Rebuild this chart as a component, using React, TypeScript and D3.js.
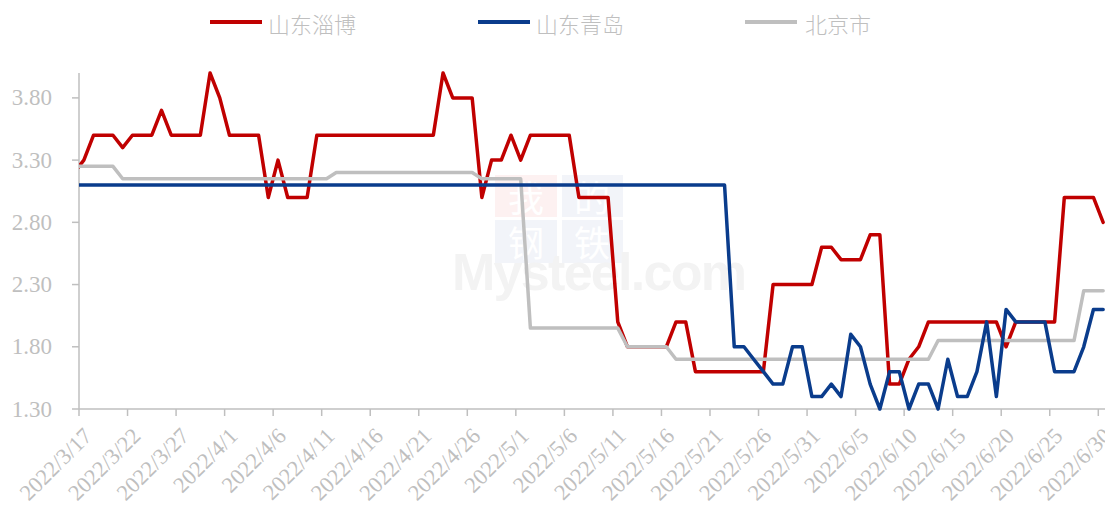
import React from 'react';
import * as d3 from 'd3';

// Daily categories: 2022/3/16 (partly hidden behind the y axis) through 2022/6/30
const startDate = new Date(2022, 2, 16);
const dayCount = 107;
const dates: Date[] = d3.range(dayCount).map((i) => d3.timeDay.offset(startDate, i));
const fmtDate = (d: Date) => `${d.getFullYear()}/${d.getMonth() + 1}/${d.getDate()}`;

const seriesNames = ['山东淄博', '山东青岛', '北京市'];
const seriesColors = ['#C00000', '#0A3C8C', '#BFBFBF'];

const ziboValues = [
  3.2,
  3.3, 3.5, 3.5, 3.5, 3.4, 3.5, 3.5, 3.5, 3.7, 3.5,
  3.5, 3.5, 3.5, 4.0, 3.8, 3.5, 3.5, 3.5, 3.5, 3.0,
  3.3, 3.0, 3.0, 3.0, 3.5, 3.5, 3.5, 3.5, 3.5, 3.5,
  3.5, 3.5, 3.5, 3.5, 3.5, 3.5, 3.5, 4.0, 3.8, 3.8,
  3.8, 3.0, 3.3, 3.3, 3.5, 3.3, 3.5, 3.5, 3.5, 3.5,
  3.5, 3.0, 3.0, 3.0, 3.0, 2.0, 1.8, 1.8, 1.8, 1.8,
  1.8, 2.0, 2.0, 1.6, 1.6, 1.6, 1.6, 1.6, 1.6, 1.6,
  1.6, 2.3, 2.3, 2.3, 2.3, 2.3, 2.6, 2.6, 2.5, 2.5,
  2.5, 2.7, 2.7, 1.5, 1.5, 1.7, 1.8, 2.0, 2.0, 2.0,
  2.0, 2.0, 2.0, 2.0, 2.0, 1.8, 2.0, 2.0, 2.0, 2.0,
  2.0, 3.0, 3.0, 3.0, 3.0, 2.8,
];

const qingdaoValues = [
  3.1,
  3.1, 3.1, 3.1, 3.1, 3.1, 3.1, 3.1, 3.1, 3.1, 3.1,
  3.1, 3.1, 3.1, 3.1, 3.1, 3.1, 3.1, 3.1, 3.1, 3.1,
  3.1, 3.1, 3.1, 3.1, 3.1, 3.1, 3.1, 3.1, 3.1, 3.1,
  3.1, 3.1, 3.1, 3.1, 3.1, 3.1, 3.1, 3.1, 3.1, 3.1,
  3.1, 3.1, 3.1, 3.1, 3.1, 3.1, 3.1, 3.1, 3.1, 3.1,
  3.1, 3.1, 3.1, 3.1, 3.1, 3.1, 3.1, 3.1, 3.1, 3.1,
  3.1, 3.1, 3.1, 3.1, 3.1, 3.1, 3.1, 1.8, 1.8, 1.7,
  1.6, 1.5, 1.5, 1.8, 1.8, 1.4, 1.4, 1.5, 1.4, 1.9,
  1.8, 1.5, 1.3, 1.6, 1.6, 1.3, 1.5, 1.5, 1.3, 1.7,
  1.4, 1.4, 1.6, 2.0, 1.4, 2.1, 2.0, 2.0, 2.0, 2.0,
  1.6, 1.6, 1.6, 1.8, 2.1, 2.1,
];

const beijingValues = [
  3.25,
  3.25, 3.25, 3.25, 3.25, 3.15, 3.15, 3.15, 3.15, 3.15, 3.15,
  3.15, 3.15, 3.15, 3.15, 3.15, 3.15, 3.15, 3.15, 3.15, 3.15,
  3.15, 3.15, 3.15, 3.15, 3.15, 3.15, 3.2, 3.2, 3.2, 3.2,
  3.2, 3.2, 3.2, 3.2, 3.2, 3.2, 3.2, 3.2, 3.2, 3.2,
  3.2, 3.15, 3.15, 3.15, 3.15, 3.15, 1.95, 1.95, 1.95, 1.95,
  1.95, 1.95, 1.95, 1.95, 1.95, 1.95, 1.8, 1.8, 1.8, 1.8,
  1.8, 1.7, 1.7, 1.7, 1.7, 1.7, 1.7, 1.7, 1.7, 1.7,
  1.7, 1.7, 1.7, 1.7, 1.7, 1.7, 1.7, 1.7, 1.7, 1.7,
  1.7, 1.7, 1.7, 1.7, 1.7, 1.7, 1.7, 1.7, 1.85, 1.85,
  1.85, 1.85, 1.85, 1.85, 1.85, 1.85, 1.85, 1.85, 1.85, 1.85,
  1.85, 1.85, 1.85, 2.25, 2.25, 2.25,
];

const yTickValues = [1.3, 1.8, 2.3, 2.8, 3.3, 3.8];
const xTickEvery = 5;

const W = 1105;
const H = 506;
const M = { left: 79, right: 1108, top: 73, bottom: 409 };

const AXIS_COLOR = '#BFBFBF';
const TEXT_COLOR = '#BFBFBF';
const SERIF = '"Times New Roman", "Liberation Serif", serif';
const CJK = '"Noto Sans CJK SC", "Noto Sans", sans-serif';

export default function App() {
  // index 0 = 2022/3/16 (hidden), categories 3/17..6/30 map to band [1..106]
  const x = d3.scaleLinear().domain([1, dayCount]).range([M.left, M.right]);
  const xc = (i: number) => x(i + 0.5);
  const y = d3.scaleLinear().domain([1.3, 4.0]).range([M.bottom, M.top]);

  const line = d3
    .line<number>()
    .x((_, i) => xc(i))
    .y((v) => y(v));

  const allSeries = [ziboValues, qingdaoValues, beijingValues];
  const drawOrder = [0, 2, 1];

  const tickIdx = d3.range(1, dayCount, xTickEvery);

  const legendItems = [
    { lx: 210, tx: 268 },
    { lx: 478, tx: 536 },
    { lx: 745, tx: 805 },
  ];

  return (
    <svg
      width={W}
      height={H}
      style={{ position: 'absolute', left: 0, top: 0, background: '#fff' }}
    >
      <defs>
        <clipPath id="plotClip">
          <rect x={M.left} y={0} width={W - M.left} height={H} />
        </clipPath>
      </defs>

      {/* watermark */}
      <g>
        <rect x={495} y={175} width={62} height={42} fill="#FDF1F1" />
        <rect x={562} y={175} width={61} height={42} fill="#F2F4F9" />
        <rect x={495} y={220} width={62} height={43} fill="#F2F4F9" />
        <rect x={562} y={220} width={61} height={43} fill="#F2F4F9" />
        {['我', '的', '钢', '铁'].map((c, k) => (
          <text
            key={c}
            x={526 + (k % 2) * 66}
            y={196 + Math.floor(k / 2) * 45}
            fontSize={36}
            fontFamily={CJK}
            textAnchor="middle"
            dominantBaseline="central"
            fill="#FFFFFF"
          >
            {c}
          </text>
        ))}
        <text
          x={452}
          y={290}
          fontSize={52}
          fontWeight="bold"
          fontFamily='"Liberation Sans", Arial, sans-serif'
          fill="#F3F3F3"
          textLength={295}
          lengthAdjust="spacing"
        >
          Mysteel.com
        </text>
      </g>

      {/* y axis */}
      <line x1={M.left} x2={M.left} y1={M.top} y2={M.bottom} stroke={AXIS_COLOR} strokeWidth={1.5} />
      {yTickValues.map((v) => (
        <g key={v}>
          <line x1={M.left - 7} x2={M.left} y1={y(v)} y2={y(v)} stroke={AXIS_COLOR} strokeWidth={1.5} />
          <text
            x={52}
            y={y(v)}
            textAnchor="end"
            dominantBaseline="central"
            fontFamily={SERIF}
            fontSize={23}
            fill={TEXT_COLOR}
          >
            {d3.format('.2f')(v)}
          </text>
        </g>
      ))}

      {/* x axis */}
      <line x1={M.left} x2={W} y1={M.bottom} y2={M.bottom} stroke={AXIS_COLOR} strokeWidth={1.5} />
      {tickIdx.map((i) => (
        <g key={i}>
          <line x1={x(i)} x2={x(i)} y1={M.bottom} y2={M.bottom + 7} stroke={AXIS_COLOR} strokeWidth={1.5} />
          <text
            transform={`translate(${x(i) + 9},${M.bottom + 23}) rotate(-45)`}
            textAnchor="end"
            dominantBaseline="central"
            fontFamily={SERIF}
            fontSize={22.5}
            fill={TEXT_COLOR}
          >
            {fmtDate(dates[i])}
          </text>
        </g>
      ))}

      {/* series */}
      <g clipPath="url(#plotClip)">
        {drawOrder.map((k) => (
          <path
            key={k}
            d={line(allSeries[k]) || ''}
            fill="none"
            stroke={seriesColors[k]}
            strokeWidth={3.5}
            strokeLinejoin="round"
            strokeLinecap="round"
          />
        ))}
      </g>

      {/* legend */}
      {seriesNames.map((name, k) => (
        <g key={name}>
          <line
            x1={legendItems[k].lx}
            x2={legendItems[k].lx + 52}
            y1={22}
            y2={22}
            stroke={seriesColors[k]}
            strokeWidth={4}
          />
          <text
            x={legendItems[k].tx}
            y={23}
            dominantBaseline="central"
            fontFamily={CJK}
            fontWeight={300}
            fontSize={22}
            fill={TEXT_COLOR}
          >
            {name}
          </text>
        </g>
      ))}
    </svg>
  );
}
